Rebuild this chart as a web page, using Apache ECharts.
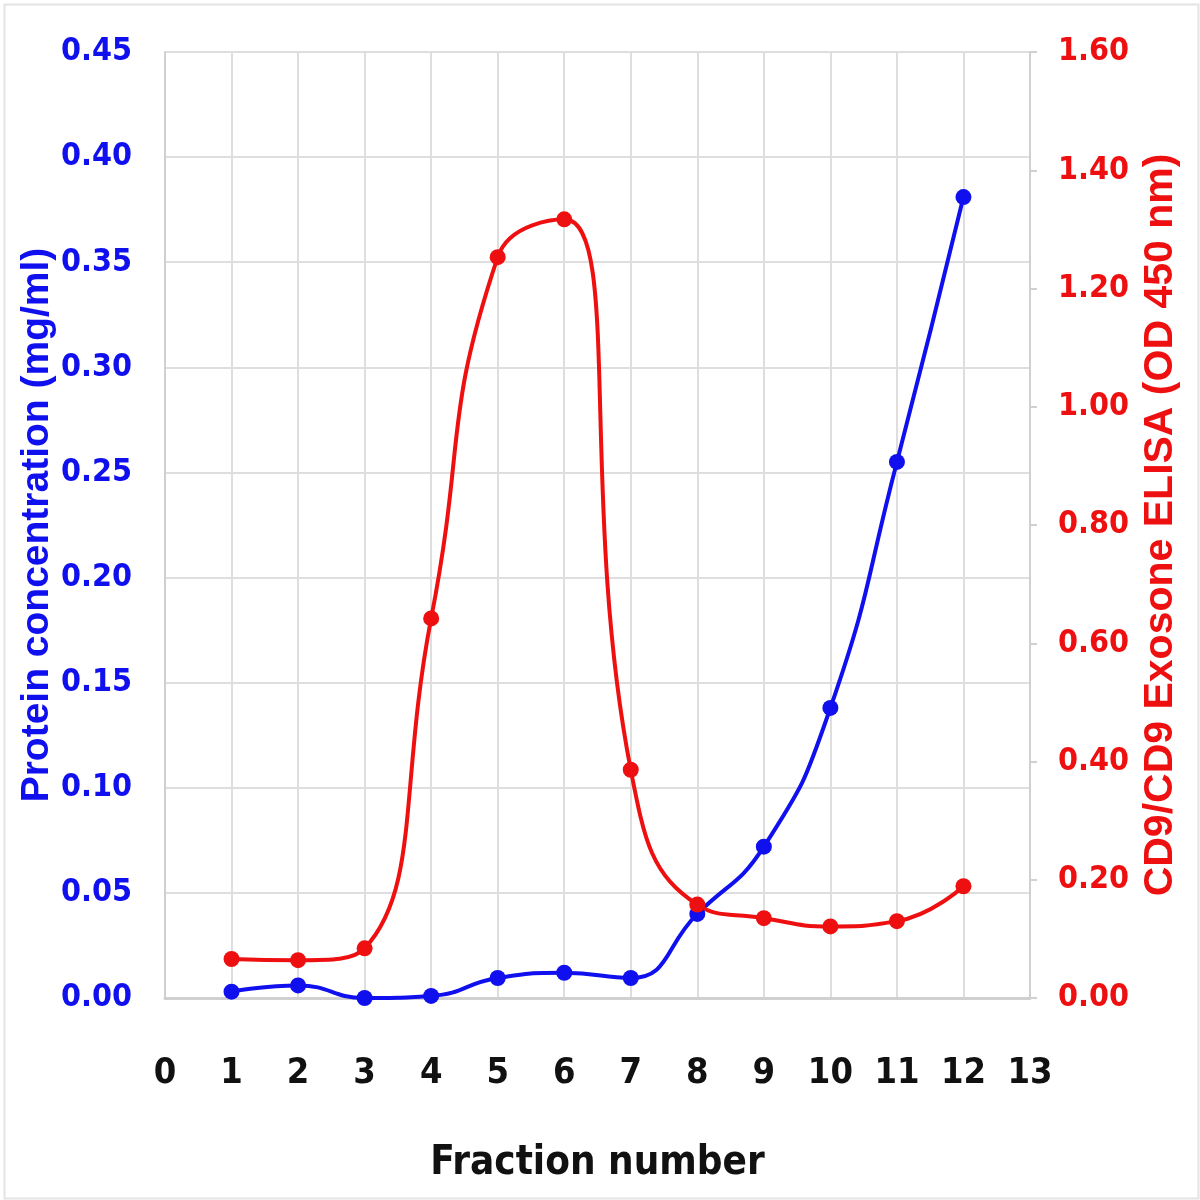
<!DOCTYPE html>
<html><head><meta charset="utf-8">
<script src="https://cdn.jsdelivr.net/npm/echarts@6/dist/echarts.min.js"></script>
<style>html,body{margin:0;padding:0;background:#fff}#c{width:1200px;height:1200px}</style>
</head><body><div id="c"></div>
<script>
const fractions = [1,2,3,4,5,6,7,8,9,10,11,12];
const protein = [0.003,0.006,0.000,0.001,0.0095,0.012,0.0095,0.040,0.072,0.138,0.255,0.381];
const elisa = [0.066,0.064,0.084,0.642,1.253,1.317,0.386,0.158,0.135,0.121,0.130,0.189];
const narrow = '"Liberation Sans Narrow","Arial Narrow","DejaVu Sans Condensed",sans-serif';
const wide = '"Liberation Sans",Arial,sans-serif';
const chart = echarts.init(document.getElementById('c'));
chart.setOption({
  backgroundColor:'#fff',
  animation:false,
  graphic:[{type:'rect',left:2,top:2,shape:{width:1194,height:1194},style:{fill:'none',stroke:'#e4e4e4',lineWidth:2},silent:true}],
  grid:{left:165,right:170,top:52,bottom:202,outerBoundsMode:'none',containLabel:false},
  xAxis:{type:'value',min:0,max:13,interval:1,
    name:'Fraction number',nameLocation:'middle',nameGap:146,nameMoveOverlap:false,
    nameTextStyle:{fontFamily:narrow,fontWeight:'bold',fontSize:40,color:'#111'},
    axisLine:{show:true,lineStyle:{color:'#d0d0d0',width:3}},
    axisTick:{show:false},
    axisLabel:{margin:58,fontFamily:narrow,fontWeight:'bold',fontSize:36,color:'#111'},
    splitLine:{show:true,lineStyle:{color:'#dedede',width:2}}},
  yAxis:[
    {type:'value',min:0,max:0.45,interval:0.05,position:'left',
     name:'Protein concentration (mg/ml)',nameLocation:'middle',nameGap:108,nameMoveOverlap:false,
     nameTextStyle:{fontFamily:wide,fontWeight:'bold',fontSize:39,color:'#1010ee'},
     axisLine:{show:true,lineStyle:{color:'#d0d0d0',width:2}},axisTick:{show:false},
     axisLabel:{margin:33,fontFamily:narrow,fontWeight:'bold',fontSize:32,color:'#1010ee',formatter:v=>v.toFixed(2)},
     splitLine:{show:true,lineStyle:{color:'#dedede',width:2}}},
    {type:'value',min:0,max:1.6,interval:0.2,position:'right',
     name:'CD9/CD9 Exosone ELISA (OD 450 nm)',nameLocation:'middle',nameGap:110,nameRotate:90,nameMoveOverlap:false,
     nameTextStyle:{fontFamily:wide,fontWeight:'bold',fontSize:41,color:'#ee1010'},
     axisLine:{show:true,lineStyle:{color:'#d0d0d0',width:2}},
     axisTick:{show:true,length:7,lineStyle:{color:'#d0d0d0',width:2}},
     axisLabel:{margin:28,fontFamily:narrow,fontWeight:'bold',fontSize:32,color:'#ee1010',formatter:v=>v.toFixed(2)},
     splitLine:{show:false}}
  ],
  series:[
    {type:'line',yAxisIndex:0,smooth:0.5,data:fractions.map((f,i)=>[f,protein[i]]),
     symbol:'circle',symbolSize:16,lineStyle:{color:'#1010ee',width:4},itemStyle:{color:'#1010ee'}},
    {type:'line',yAxisIndex:1,smooth:0.5,data:fractions.map((f,i)=>[f,elisa[i]]),
     symbol:'circle',symbolSize:16,lineStyle:{color:'#ee1010',width:4},itemStyle:{color:'#ee1010'}}
  ]
});
</script></body></html>
